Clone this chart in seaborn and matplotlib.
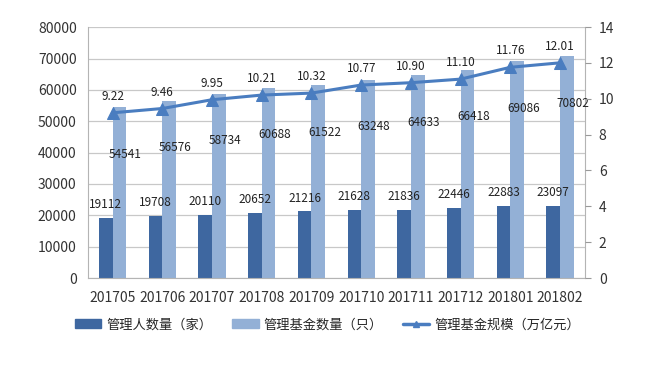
import numpy as np
import pandas as pd
import matplotlib
matplotlib.use("Agg")
import matplotlib.pyplot as plt
import seaborn as sns
from matplotlib.patches import Patch
from matplotlib.lines import Line2D

months = ["201705", "201706", "201707", "201708", "201709",
          "201710", "201711", "201712", "201801", "201802"]
managers = [19112, 19708, 20110, 20652, 21216, 21628, 21836, 22446, 22883, 23097]
funds = [54541, 56576, 58734, 60688, 61522, 63248, 64633, 66418, 69086, 70802]
scale = [9.22, 9.46, 9.95, 10.21, 10.32, 10.77, 10.90, 11.10, 11.76, 12.01]
series_names = ["管理人数量（家）", "管理基金数量（只）", "管理基金规模（万亿元）"]

dark = "#3e67a0"
light = "#93b0d6"
line_c = "#4a7dc0"

sns.set_style("white")
plt.rcParams["font.family"] = ["Noto Sans CJK SC", "DejaVu Sans"]

df = pd.DataFrame({
    "month": months * 2,
    "value": managers + funds,
    "series": [series_names[0]] * len(months) + [series_names[1]] * len(months),
})

fig = plt.figure(figsize=(6.55, 3.67), dpi=100)
ax = fig.add_axes([0.134, 0.2425, 0.759, 0.6835])

sns.barplot(data=df, x="month", y="value", hue="series", order=months,
            palette=[dark, light], width=0.55, gap=0, saturation=1,
            linewidth=0, legend=False, ax=ax)
ax.set_ylim(0, 80000)
ax.set_yticks(np.arange(0, 80001, 10000))
ax.set_xlim(-0.5, len(months) - 0.5)
ax.set_xlabel("")
ax.set_ylabel("")
ax.grid(axis="y", color="#c8c8c8", linewidth=0.9)
ax.set_axisbelow(True)
for s in ["left", "bottom", "right", "top"]:
    ax.spines[s].set_color("#b4b4b4")
ax.spines["top"].set_visible(False)
ax.tick_params(axis="y", length=0, labelsize=10, colors="#333333", pad=8)
ax.tick_params(axis="x", length=0, labelsize=10, colors="#333333", pad=9)

off = 0.14
for i, (m, f) in enumerate(zip(managers, funds)):
    ax.text(i - off, m + 2200, str(m), ha="center", va="bottom",
            fontsize=8.5, color="#222222")
    ax.text(i + off + 0.12, f - 15000, str(f), ha="center", va="center",
            fontsize=8.5, color="#222222")

ax2 = ax.twinx()
sns.lineplot(x=np.arange(len(months)), y=scale, ax=ax2, color=line_c,
             linewidth=2.2, marker="^", markersize=8, markeredgecolor=line_c)
ax2.set_ylim(0, 14)
ax2.set_yticks(np.arange(0, 15, 2))
ax2.tick_params(axis="y", length=4, color="#999999", labelsize=10,
                colors="#333333", pad=6)
ax2.tick_params(axis="y", color="#999999")
for s in ["left", "bottom", "right", "top"]:
    ax2.spines[s].set_visible(False)
for i, v in enumerate(scale):
    ax2.text(i, v + 0.55, f"{v:.2f}", ha="center", va="bottom",
             fontsize=8.5, color="#222222")

handles = [Patch(facecolor=dark, edgecolor=dark),
           Patch(facecolor=light, edgecolor=light),
           Line2D([0], [0], color=line_c, linewidth=2.5, marker="^",
                  markersize=4)]
fig.legend(handles, series_names, loc="center", bbox_to_anchor=(0.5, 0.115),
           ncol=3, frameon=False, fontsize=9.5, handlelength=2.0,
           handleheight=0.6, columnspacing=1.5, handletextpad=0.4)

fig.savefig("out.png", dpi=100)
